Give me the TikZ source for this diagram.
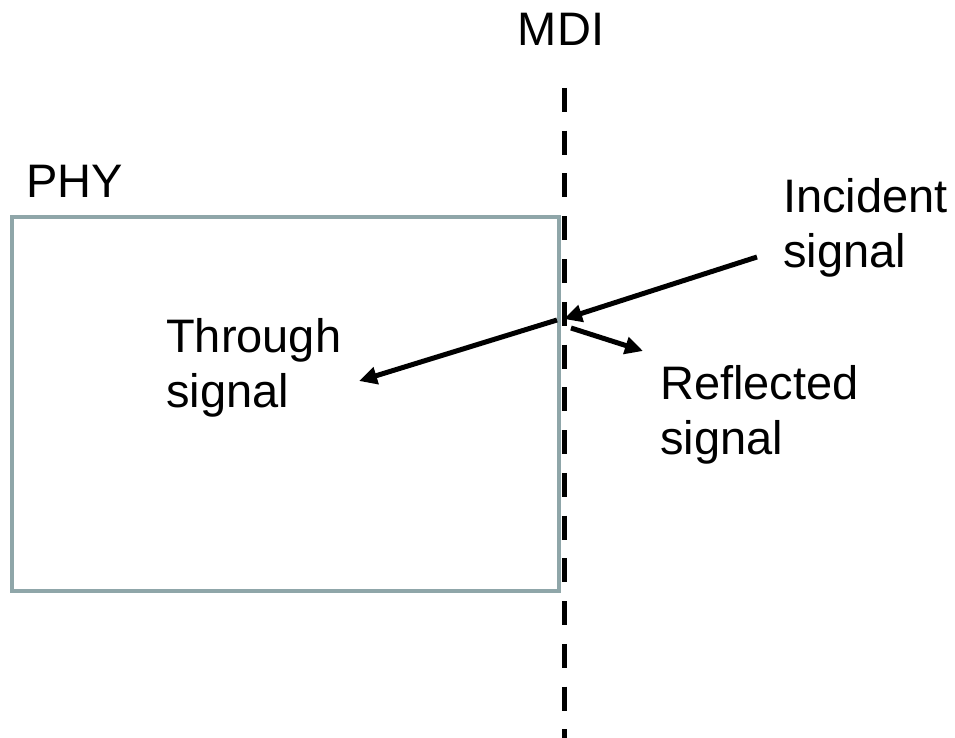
\documentclass[tikz,border=0pt]{standalone}
\usepackage{fontspec}
\setmainfont{Liberation Sans}
\usetikzlibrary{arrows.meta}
\definecolor{boxgray}{RGB}{143,166,169}
\tikzset{
  lbl/.style={inner sep=0pt, align=left, font=\fontsize{47}{55}\selectfont},
  sig/.style={line width=5pt, -{Triangle[length=18pt,width=17pt]}},
  mdiline/.style={line width=5.5pt, dash pattern=on 24pt off 18.75pt},
}
\begin{document}
\begin{tikzpicture}[x=1pt,y=-1pt]
  \useasboundingbox (0,0) rectangle (955,738);
  % PHY block
  \draw[boxgray, line width=4.5pt] (12,217) rectangle (559,591);
  \node[lbl, anchor=base west] (phy) at (26,197) {PHY};
  % MDI boundary
  \node[lbl, anchor=base] (mdi) at (561,46) {MDI};
  \coordinate (mditop) at (564.5,88);
  \coordinate (mdibot) at (564.5,738);
  \draw[mdiline] (mditop) -- (mdibot);
  % signal labels
  \node[lbl, anchor=north west] (inc) at (783,178) {Incident\\signal};
  \node[lbl, anchor=north west] (thr) at (166,318) {Through\\signal};
  \node[lbl, anchor=north west] (ref) at (660,365) {Reflected\\signal};
  % signals at the interface
  \coordinate (incstart) at (757,257);
  \coordinate (hit) at (564,319);
  \coordinate (thrstart) at (557,320);
  \coordinate (thrend) at (359,381);
  \coordinate (refstart) at (571,328);
  \coordinate (refend) at (643,351);
  \draw[sig] (incstart) -- (hit);
  \draw[sig] (thrstart) -- (thrend);
  \draw[sig] (refstart) -- (refend);
\end{tikzpicture}
\end{document}
